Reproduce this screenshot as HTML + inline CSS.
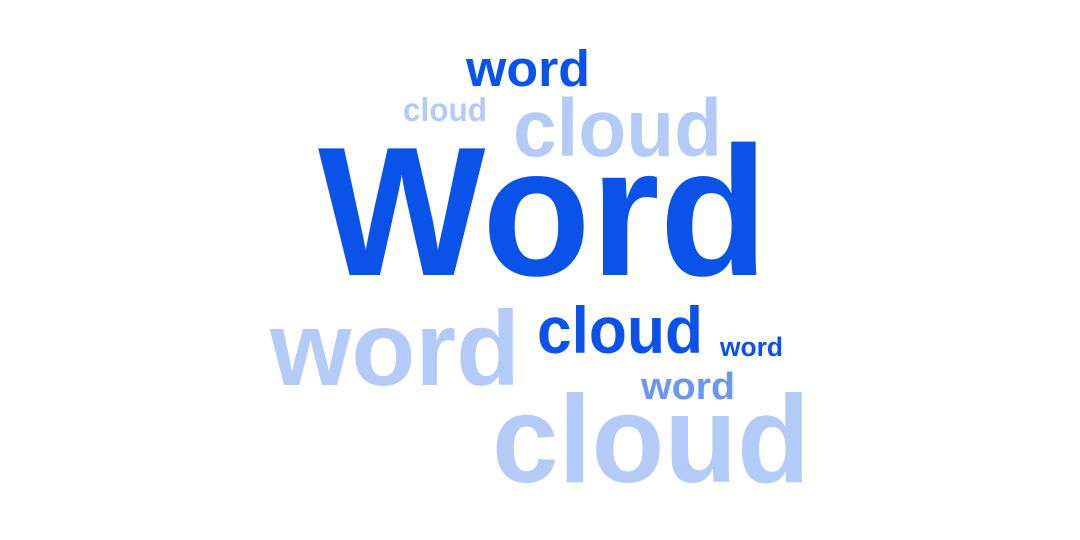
<!DOCTYPE html>
<html>
<head>
<meta charset="utf-8">
<style>
html,body{margin:0;padding:0;background:#fff;}
svg{display:block;}
text{font-family:"Liberation Sans",sans-serif;font-weight:bold;}
</style>
</head>
<body>
<svg id="cloud" width="1080" height="540" viewBox="0 0 1080 540"></svg>
<script>
const words = ["word","cloud","cloud","Word","word","cloud","word","word","cloud"];
const xs = [466,403,513,318,270,537,720,641,492];
const baselines = [86,121,156,275,385,353,356,399,482];
const widths = [124,84,209,450,250,166,63,94,318];
const sizes = [51,33,82,184,106,66,27,38,124];
const tones = ["dark","light","light","dark","light","dark","dark","mid","light"];
const palette = {dark:"#0a52e8", light:"#b5cbf7", mid:"#6b97f2"};
const svg = document.getElementById('cloud');
const NS = "http://www.w3.org/2000/svg";
words.forEach((w,i)=>{
  const t = document.createElementNS(NS,'text');
  t.setAttribute('x', xs[i]);
  t.setAttribute('y', baselines[i]);
  t.setAttribute('font-size', sizes[i]);
  t.setAttribute('fill', palette[tones[i]]);
  t.setAttribute('textLength', widths[i]);
  t.setAttribute('lengthAdjust', 'spacingAndGlyphs');
  t.textContent = w;
  
  
  svg.appendChild(t);
});
</script>
</body>
</html>
